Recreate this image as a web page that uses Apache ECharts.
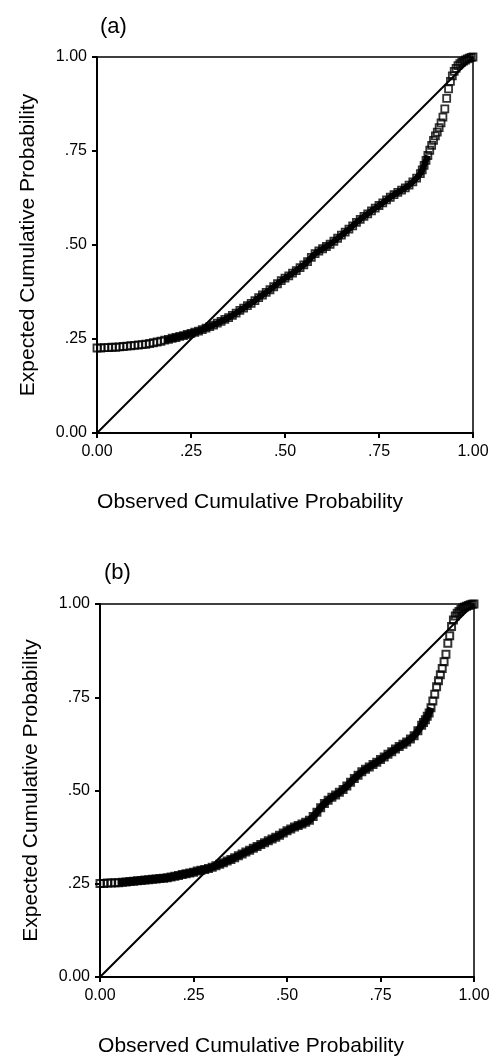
<!DOCTYPE html>
<html>
<head>
<meta charset="utf-8">
<script src="https://cdn.jsdelivr.net/npm/echarts@6/dist/echarts.min.js"></script>
<style>
  html, body { margin: 0; padding: 0; background: #fff; }
  #chart { width: 497px; height: 1058px; }
</style>
</head>
<body>
<div id="chart"></div>
<script>
// panel (a): observed vs expected cumulative probability
const obsA = [0.00,0.01,0.02,0.03,0.04,0.05,0.06,0.07,0.08,0.09,
  0.10,0.11,0.12,0.13,0.14,0.15,0.16,0.17,0.18,0.19,
  0.20,0.21,0.22,0.23,0.24,0.25,0.26,0.27,0.28,0.29,
  0.30,0.31,0.32,0.33,0.34,0.35,0.36,0.37,0.38,0.39,
  0.40,0.41,0.42,0.43,0.44,0.45,0.46,0.47,0.48,0.49,
  0.50,0.51,0.52,0.53,0.54,0.55,0.56,0.57,0.58,0.59,
  0.60,0.61,0.62,0.63,0.64,0.65,0.66,0.67,0.68,0.69,
  0.70,0.71,0.72,0.73,0.74,0.75,0.76,0.77,0.78,0.79,
  0.80,0.81,0.82,0.83,0.84,0.85,0.86,0.865,0.87,0.875,
  0.88,0.885,0.89,0.895,0.90,0.905,0.91,0.915,0.92,0.925,
  0.93,0.935,0.94,0.945,0.95,0.955,0.96,0.965,0.97,0.975,
  0.98,0.985,0.99,0.995,1.00];
const expA = [0.226,0.226,0.227,0.227,0.228,0.228,0.229,0.230,0.231,0.232,
  0.233,0.234,0.235,0.236,0.238,0.240,0.242,0.244,0.247,0.249,
  0.252,0.254,0.257,0.259,0.262,0.265,0.268,0.271,0.275,0.279,
  0.283,0.287,0.292,0.297,0.302,0.307,0.313,0.319,0.326,0.332,
  0.339,0.345,0.352,0.360,0.367,0.374,0.381,0.389,0.397,0.405,
  0.412,0.418,0.425,0.432,0.440,0.447,0.456,0.467,0.477,0.484,
  0.490,0.496,0.502,0.510,0.518,0.526,0.534,0.542,0.551,0.560,
  0.568,0.576,0.583,0.591,0.598,0.605,0.612,0.620,0.627,0.634,
  0.640,0.646,0.652,0.659,0.668,0.678,0.690,0.700,0.712,0.725,
  0.738,0.752,0.765,0.778,0.790,0.800,0.812,0.825,0.840,0.862,
  0.890,0.915,0.935,0.950,0.962,0.970,0.977,0.982,0.986,0.989,
  0.992,0.995,0.997,0.999,1.000];

// panel (b)
const obsB = [0.00,0.01,0.02,0.03,0.04,0.05,0.06,0.07,0.08,0.09,
  0.10,0.11,0.12,0.13,0.14,0.15,0.16,0.17,0.18,0.19,
  0.20,0.21,0.22,0.23,0.24,0.25,0.26,0.27,0.28,0.29,
  0.30,0.31,0.32,0.33,0.34,0.35,0.36,0.37,0.38,0.39,
  0.40,0.41,0.42,0.43,0.44,0.45,0.46,0.47,0.48,0.49,
  0.50,0.51,0.52,0.53,0.54,0.55,0.56,0.57,0.58,0.59,
  0.60,0.61,0.62,0.63,0.64,0.65,0.66,0.67,0.68,0.69,
  0.70,0.71,0.72,0.73,0.74,0.75,0.76,0.77,0.78,0.79,
  0.80,0.81,0.82,0.83,0.84,0.85,0.86,0.865,0.87,0.875,
  0.88,0.885,0.89,0.895,0.90,0.905,0.91,0.915,0.92,0.925,
  0.93,0.935,0.94,0.945,0.95,0.955,0.96,0.965,0.97,0.975,
  0.98,0.985,0.99,0.995,1.00];
const expB = [0.251,0.251,0.252,0.252,0.253,0.253,0.254,0.255,0.256,0.257,
  0.258,0.259,0.260,0.261,0.262,0.263,0.264,0.265,0.266,0.268,
  0.270,0.272,0.275,0.277,0.279,0.281,0.284,0.286,0.288,0.291,
  0.294,0.298,0.302,0.306,0.311,0.315,0.320,0.325,0.330,0.335,
  0.340,0.345,0.350,0.355,0.360,0.365,0.370,0.375,0.380,0.386,
  0.392,0.397,0.402,0.406,0.410,0.415,0.420,0.430,0.442,0.454,
  0.465,0.474,0.482,0.488,0.495,0.503,0.512,0.522,0.532,0.541,
  0.550,0.557,0.563,0.570,0.576,0.583,0.590,0.597,0.604,0.611,
  0.618,0.624,0.630,0.638,0.647,0.660,0.675,0.682,0.690,0.699,
  0.708,0.722,0.740,0.758,0.778,0.794,0.810,0.827,0.845,0.865,
  0.895,0.915,0.940,0.957,0.968,0.975,0.980,0.985,0.989,0.992,
  0.994,0.996,0.998,0.999,1.000];

// reference line y = x
const diagX = [0, 1];
const diagY = [0, 1];

const xTitle = 'Observed Cumulative Probability';
const yTitle = 'Expected Cumulative Probability';

const FONT = '"Liberation Sans", Arial, sans-serif';

function fmt(v) {
  if (v === 0) return '0.00';
  if (v === 1) return '1.00';
  return v.toFixed(2).slice(1);
}

function zip(xs, ys) {
  return xs.map((x, i) => [x, ys[i]]);
}

function makeX(gridIndex, padRight) {
  return {
    gridIndex: gridIndex,
    type: 'value',
    min: 0, max: 1, interval: 0.25,
    name: xTitle,
    nameLocation: 'middle',
    nameGap: 59,
    nameTextStyle: { fontSize: 21, color: '#000', fontFamily: FONT, padding: [0, padRight, 0, 0] },
    axisLine: { lineStyle: { color: '#000', width: 2 } },
    axisTick: { length: 5, lineStyle: { color: '#000', width: 2 } },
    axisLabel: { margin: 11, fontSize: 16, color: '#000', fontFamily: FONT, formatter: fmt },
    splitLine: { show: false }
  };
}

function makeY(gridIndex) {
  return {
    gridIndex: gridIndex,
    type: 'value',
    min: 0, max: 1, interval: 0.25,
    name: yTitle,
    nameLocation: 'middle',
    nameGap: 58,
    nameTextStyle: { fontSize: 21, color: '#000', fontFamily: FONT },
    axisLine: { lineStyle: { color: '#000', width: 2 } },
    axisTick: { length: 5, lineStyle: { color: '#000', width: 2 } },
    axisLabel: { margin: 10, fontSize: 16, color: '#000', fontFamily: FONT, formatter: fmt },
    splitLine: { show: false }
  };
}

function pointSeries(idx, data, size, bw) {
  return {
    type: 'scatter',
    xAxisIndex: idx, yAxisIndex: idx,
    data: data,
    symbol: 'rect',
    symbolSize: size,
    itemStyle: { color: 'rgba(0,0,0,0)', borderColor: '#000', borderWidth: bw },
    silent: true,
    z: 3
  };
}

// the dense middle stretch, where the squares merge into a solid band
function bandSeries(idx, data, w) {
  return {
    type: 'line',
    xAxisIndex: idx, yAxisIndex: idx,
    data: data,
    symbol: 'none',
    lineStyle: { color: '#000', width: w },
    silent: true,
    z: 3
  };
}

function diagSeries(idx) {
  return {
    type: 'line',
    xAxisIndex: idx, yAxisIndex: idx,
    data: zip(diagX, diagY),
    symbol: 'none',
    lineStyle: { color: '#000', width: 2 },
    silent: true,
    z: 2
  };
}

const ptsA = zip(obsA, expA);
const ptsB = zip(obsB, expB);

const chart = echarts.init(document.getElementById('chart'));
chart.setOption({
  animation: false,
  backgroundColor: '#fff',
  title: [
    { text: '(a)', left: 95, top: 11, textStyle: { fontSize: 22, fontWeight: 'normal', color: '#000', fontFamily: FONT } },
    { text: '(b)', left: 99, top: 557, textStyle: { fontSize: 22, fontWeight: 'normal', color: '#000', fontFamily: FONT } }
  ],
  grid: [
    { left: 97, top: 57, width: 376, height: 376, show: true, borderColor: '#000', borderWidth: 1.5, backgroundColor: 'transparent' },
    { left: 100, top: 604, width: 374, height: 374, show: true, borderColor: '#000', borderWidth: 1.5, backgroundColor: 'transparent' }
  ],
  xAxis: [makeX(0, 70), makeX(1, 72)],
  yAxis: [makeY(0), makeY(1)],
  series: [
    diagSeries(0),
    bandSeries(0, ptsA.slice(18, 91), 6),
    pointSeries(0, ptsA, 7, 1.8),
    diagSeries(1),
    bandSeries(1, ptsB.slice(5, 92), 7),
    pointSeries(1, ptsB, 7, 2)
  ]
});
</script>
</body>
</html>
